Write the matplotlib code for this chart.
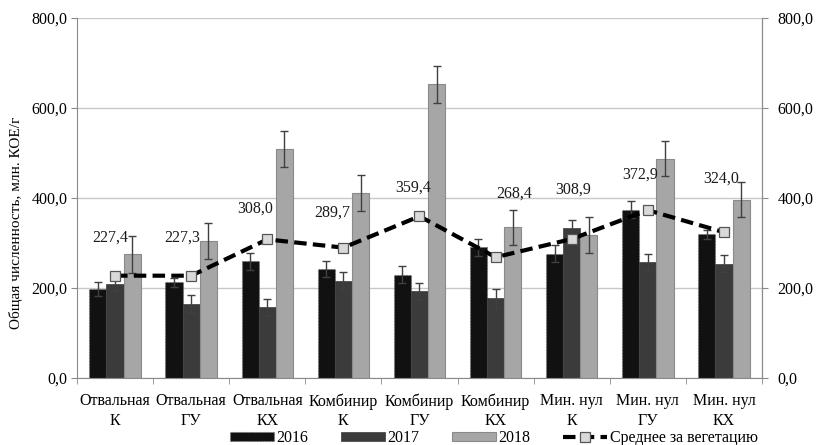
import matplotlib
matplotlib.use("Agg")
import matplotlib.pyplot as plt
from matplotlib.ticker import FuncFormatter, FixedLocator
import numpy as np

plt.rcParams['font.family'] = ['Liberation Serif', 'DejaVu Serif']

categories = ["Отвальная\nК", "Отвальная\nГУ", "Отвальная\nКХ",
              "Комбинир\nК", "Комбинир\nГУ", "Комбинир\nКХ",
              "Мин. нул\nК", "Мин. нул\nГУ", "Мин. нул\nКХ"]

v2016 = [198, 213, 259, 242, 230, 291, 276, 374, 320]
e2016 = [16, 10, 18, 18, 19, 19, 19, 19, 10]
v2017 = [210, 165, 157, 216, 193, 177, 333, 257, 254]
e2017 = [16, 19, 19, 19, 19, 21, 19, 19, 19]
v2018 = [275, 304, 510, 411, 653, 335, 317, 487, 396]
e2018 = [41, 40, 40, 40, 41, 39, 40, 39, 39]
season_mean = [227.4, 227.3, 308.0, 289.7, 359.4, 268.4, 308.9, 372.9, 324.0]

# label placement next to the mean markers, in pixels
label_dx = [-5, -9, -12, -11, -6, 19, 1, -8, -3]
label_dy = [38, 38, 31, 35, 29, 64, 49, 36, 54]

FS = 11.5

fig = plt.figure(figsize=(8.16, 4.45), dpi=100)
ax = fig.add_axes([77 / 816, 1 - 378 / 445, (762 - 77) / 816, 360 / 445])

x = np.arange(len(categories))
w = 0.225
err_kw = dict(ecolor="#404040", elinewidth=1.0, capsize=3, capthick=1.0)

b16 = ax.bar(x - w, v2016, w, color="#111111", edgecolor="#6a6a6a", linestyle=":",
             linewidth=0.8, yerr=e2016, error_kw=err_kw, label="2016", zorder=2)
b17 = ax.bar(x, v2017, w, color="#3b3b3b", edgecolor="#3b3b3b", linewidth=0.5,
             yerr=e2017, error_kw=err_kw, label="2017", zorder=2)
b18 = ax.bar(x + w, v2018, w, color="#a6a6a6", edgecolor="#8a8a8a", linewidth=0.8,
             yerr=e2018, error_kw=err_kw, label="2018", zorder=2)

mean_line, = ax.plot(x, season_mean, color="black", linewidth=3.0, dashes=(3.0, 1.5),
                     marker="s", markersize=6.5, markerfacecolor="#d9d9d9",
                     markeredgecolor="#555555", markeredgewidth=0.9,
                     label="Среднее за вегетацию", zorder=4)

for xi, m, dx, dy in zip(x, season_mean, label_dx, label_dy):
    ax.annotate(f"{m:.1f}".replace(".", ","), (xi, m), xytext=(dx, dy),
                textcoords="offset pixels", ha="center", va="center",
                fontsize=FS, color="#1a1a1a", zorder=5)

fmt = FuncFormatter(lambda v, p: f"{v:.1f}".replace(".", ","))
ax.set_ylim(0, 800)
ax.set_xlim(-0.5, len(categories) - 0.5)
ax.set_yticks([0, 200, 400, 600, 800])
ax.yaxis.set_major_formatter(fmt)
ax.grid(axis="y", color="#c8c8c8", linewidth=1.0, zorder=0)
ax.set_axisbelow(True)

ax.set_xticks(x)
ax.set_xticklabels(categories, fontsize=FS, linespacing=1.3)
ax.xaxis.set_minor_locator(FixedLocator(np.arange(-0.5, len(categories), 1.0)))
ax.tick_params(axis="x", which="major", length=0, pad=11)
ax.tick_params(axis="x", which="minor", length=4, color="#8a8a8a")
ax.tick_params(axis="y", labelsize=FS, length=4, color="#8a8a8a", pad=3)

for side in ["left", "bottom", "right"]:
    ax.spines[side].set_color("#8a8a8a")
ax.spines["top"].set_visible(False)

ax2 = ax.twinx()
ax2.set_ylim(ax.get_ylim())
ax2.set_yticks([0, 200, 400, 600, 800])
ax2.yaxis.set_major_formatter(fmt)
ax2.tick_params(axis="y", labelsize=FS, length=4, color="#8a8a8a", pad=7)
ax2.spines["top"].set_visible(False)
ax2.spines["right"].set_color("#8a8a8a")
ax2.spines["left"].set_visible(False)
ax2.spines["bottom"].set_visible(False)

fig.text(16 / 816, 0.5, "Общая численность, млн. КОЕ/г", rotation=90,
         ha="center", va="center", fontsize=11)

fig.legend([b16, b17, b18, mean_line],
           ["2016", "2017", "2018", "Среднее за вегетацию"],
           loc="center", bbox_to_anchor=(0.605, 0.016),
           ncol=4, frameon=False, fontsize=FS, handlelength=2.8,
           handleheight=0.5, handletextpad=0.15, columnspacing=2.0,
           borderpad=0)

fig.savefig("out.png", dpi=100)
